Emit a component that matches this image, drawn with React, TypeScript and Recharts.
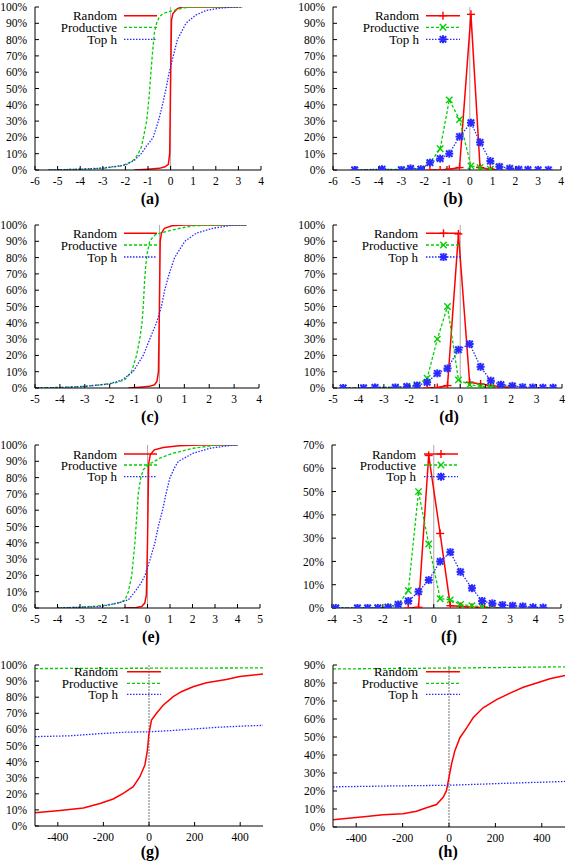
import React from 'react';
import { LineChart, Line, XAxis, YAxis, ReferenceLine } from 'recharts';

const FONT = '"Liberation Serif", "DejaVu Serif", serif';
const RED = '#ff0000';
const GREEN = '#00d000';
const BLUE = '#2a2aff';

type Pair = [number, number];

const seriesNames = ['Random', 'Productive', 'Top h'];

// (a) cumulative
const aRandom: Pair[] = [[-1.6, 0], [-1, 0.5], [-0.5, 1], [-0.25, 2], [-0.1, 3.5], [-0.04, 10], [0, 55], [0.04, 92], [0.1, 96], [0.3, 99], [0.5, 100], [3, 100]];
const aProductive: Pair[] = [[-5.4, 0], [-4, 0.5], [-3, 1], [-2.2, 2.5], [-1.9, 4], [-1.6, 6.5], [-1.43, 10], [-1.3, 14], [-1.2, 20], [-1.06, 30], [-0.95, 45], [-0.87, 60], [-0.8, 72], [-0.72, 84], [-0.62, 90], [-0.5, 94], [-0.33, 96], [0, 97.5], [0.3, 98.5], [0.6, 99.5], [1, 100], [3.2, 100]];
const aTopH: Pair[] = [[-5.4, 0], [-4, 0.5], [-3, 1.2], [-2, 3], [-1.6, 6], [-1.3, 10], [-1.05, 15], [-0.77, 20], [-0.54, 30], [-0.36, 40], [-0.2, 50], [-0.06, 60], [0.12, 70], [0.3, 80], [0.68, 90], [1.1, 95], [1.6, 98], [2.2, 99.3], [2.8, 100], [3.2, 100]];

// (b) distribution
const bRandom: Pair[] = [[-1.75, 0], [-1.3, 0], [-0.9, 0.5], [-0.45, 1.5], [0.05, 95.5], [0.45, 1.5], [0.9, 0.5], [1.3, 0]];
const bProductive: Pair[] = [[-5.05, 0], [-3.85, 0.3], [-3.0, 0.3], [-2.6, 0.8], [-2.15, 0.5], [-1.75, 4.5], [-1.3, 13], [-0.9, 43], [-0.45, 31], [0.05, 2.5], [0.45, 1.5], [0.9, 0.5], [1.3, 0]];
const bTopH: Pair[] = [[-5.05, 0], [-3.85, 0.5], [-3.0, 0], [-2.6, 1], [-2.15, 0.5], [-1.75, 4.5], [-1.3, 7], [-0.9, 10], [-0.45, 20.5], [0.05, 29], [0.45, 17], [0.9, 5.5], [1.3, 2], [1.75, 1], [2.15, 0.3], [2.55, 0.2], [3.0, 0.1], [3.45, 0.1]];

// (c) cumulative
const cRandom: Pair[] = [[-1.25, 0], [-0.8, 0.5], [-0.4, 1], [-0.2, 2], [-0.1, 4], [-0.04, 10], [0, 50], [0.03, 90], [0.08, 95], [0.2, 98], [0.5, 99.5], [1, 100], [3.5, 100]];
const cProductive: Pair[] = [[-5, 0], [-3.7, 0.5], [-3, 1], [-2, 2.6], [-1.7, 3.5], [-1.4, 5], [-1.12, 10], [-0.92, 20], [-0.79, 30], [-0.7, 40], [-0.65, 50], [-0.6, 65], [-0.55, 75], [-0.5, 82], [-0.39, 90], [-0.25, 93], [-0.12, 94.5], [0.28, 96], [0.82, 98], [1.35, 99.5], [2.15, 100], [3.5, 100]];
const cTopH: Pair[] = [[-5, 0], [-4, 0.3], [-3, 1], [-2, 2.5], [-1.5, 5], [-1.06, 10], [-0.65, 20], [-0.39, 30], [-0.12, 40], [0.08, 50], [0.21, 60], [0.39, 70], [0.61, 80], [1.02, 90], [1.48, 95], [2.15, 98], [2.95, 100], [3.5, 100]];

// (d) distribution
const dRandom: Pair[] = [[-1.3, 0], [-0.9, 0.3], [-0.5, 1.5], [-0.07, 94.5], [0.37, 3.5], [0.8, 2.5], [1.2, 1.5], [1.6, 0.8], [2.05, 0.3]];
const dProductive: Pair[] = [[-4.6, 0], [-3.8, 0], [-3.35, 0.3], [-2.55, 0.5], [-2.1, 1], [-1.7, 2], [-1.3, 6], [-0.9, 30], [-0.5, 50], [-0.07, 5], [0.37, 2], [0.8, 1], [1.2, 0.5], [1.6, 0.5], [2.05, 0.2]];
const dTopH: Pair[] = [[-4.6, 0], [-3.8, 0], [-3.35, 0.3], [-2.55, 0.3], [-2.1, 0.8], [-1.7, 1.5], [-1.3, 3.5], [-0.9, 9], [-0.5, 12], [-0.07, 23.5], [0.37, 27], [0.8, 13], [1.2, 4.5], [1.6, 2], [2.05, 1.3], [2.45, 0.5], [2.85, 0.3], [3.25, 0.2], [3.65, 0.2]];

// (e) cumulative
const eRandom: Pair[] = [[-1.05, 0], [-0.5, 0.3], [-0.25, 1], [-0.12, 3], [-0.05, 8], [0, 40], [0.05, 88], [0.12, 94], [0.3, 97], [0.7, 98.5], [1.4, 99.5], [2.3, 100], [4, 100]];
const eProductive: Pair[] = [[-4, 0], [-3, 0.5], [-2, 1.5], [-1.5, 2.5], [-1.2, 3.5], [-1, 5], [-0.85, 10], [-0.7, 20], [-0.63, 30], [-0.56, 40], [-0.51, 50], [-0.46, 60], [-0.41, 70], [-0.3, 80], [-0.18, 85], [0.05, 88], [0.56, 92], [1.15, 95], [2.04, 98], [3.07, 100], [4, 100]];
const eTopH: Pair[] = [[-4, 0], [-3, 0.5], [-2, 1], [-1.67, 2], [-1.2, 3.5], [-0.85, 5], [-0.56, 10], [-0.3, 15], [-0.11, 20], [0.12, 30], [0.33, 40], [0.48, 50], [0.67, 60], [0.82, 70], [1.0, 80], [1.2, 86], [1.37, 90], [2.04, 95], [2.78, 98], [3.81, 100], [4, 100]];

// (f) distribution
const fRandom: Pair[] = [[-1.0, 0], [-0.6, 0.3], [-0.2, 65.5], [0.25, 32], [0.65, 1], [1.05, 0.7], [1.5, 0.3], [1.9, 0.2], [2.3, 0], [2.7, 0]];
const fProductive: Pair[] = [[-3.85, 0], [-3.0, 0], [-2.6, 0], [-2.2, 0.1], [-1.8, 0.5], [-1.4, 1.5], [-1.0, 7.5], [-0.6, 50], [-0.2, 27.5], [0.25, 4], [0.65, 3.5], [1.05, 1.5], [1.5, 1], [1.9, 0.5], [2.3, 0.3], [2.7, 0.1]];
const fTopH: Pair[] = [[-3.85, 0], [-3.0, 0], [-2.6, 0], [-2.2, 0], [-1.8, 0.3], [-1.4, 1.5], [-1.0, 3], [-0.6, 7], [-0.2, 12], [0.25, 20], [0.65, 24], [1.05, 15.5], [1.5, 8.5], [1.9, 3], [2.3, 2], [2.7, 1.3], [3.1, 1], [3.5, 0.7], [3.9, 0.3], [4.3, 0.2]];

// (g) cumulative, wide range
const gRandom: Pair[] = [[-500, 8.3], [-390, 9.7], [-288, 11.2], [-215, 14], [-157, 16.8], [-113, 20.3], [-69, 24.4], [-40, 30.6], [-18, 37.9], [-7, 47], [0, 57.6], [11, 65.8], [33, 70], [62, 75], [106, 80.3], [142, 83.4], [193, 86.5], [252, 89], [339, 91], [398, 92.8], [500, 94.4]];
const gProductive: Pair[] = [[-500, 97.8], [0, 98], [500, 98.2]];
const gTopH: Pair[] = [[-500, 55.5], [-350, 56], [-200, 57.5], [-100, 58.3], [0, 58.5], [100, 59.3], [200, 60.3], [300, 61.3], [400, 62], [500, 62.5]];

// (h)
const hRandom: Pair[] = [[-500, 4], [-356, 5.9], [-284, 6.8], [-198, 7.4], [-140, 8.8], [-97, 10.7], [-54, 12.5], [-25, 16.5], [-11, 20.2], [0, 27.6], [11, 35], [25, 42.3], [47, 49.6], [76, 55.1], [104, 60.7], [147, 66.2], [205, 70.8], [263, 74.4], [320, 77.6], [378, 80], [435, 82.4], [500, 84.2]];
const hProductive: Pair[] = [[-500, 87.8], [0, 88.3], [500, 89]];
const hTopH: Pair[] = [[-500, 22.3], [-250, 22.8], [0, 23.2], [250, 24.3], [500, 25.3]];

const pct100 = [0, 10, 20, 30, 40, 50, 60, 70, 80, 90, 100];
const pct90 = [0, 10, 20, 30, 40, 50, 60, 70, 80, 90];
const pct70 = [0, 10, 20, 30, 40, 50, 60, 70];
const xTicksA = [-6, -5, -4, -3, -2, -1, 0, 1, 2, 3, 4];
const xTicksC = [-5, -4, -3, -2, -1, 0, 1, 2, 3, 4];
const xTicksE = [-5, -4, -3, -2, -1, 0, 1, 2, 3, 4, 5];
const xTicksF = [-4, -3, -2, -1, 0, 1, 2, 3, 4, 5];
const xTicksG = [-400, -200, 0, 200, 400];

const pts = (arr: Pair[]) => arr.map(([x, y]) => ({ x, y }));

type Kind = 'plus' | 'cross' | 'star';

const MarkerShape = ({ kind, cx, cy, color }: { kind: Kind; cx: number; cy: number; color: string }) => {
  const s = 4;
  const d = 3.2;
  return (
    <g stroke={color} strokeWidth={kind === 'star' ? 2 : 1.4} fill="none">
      {kind !== 'cross' && (
        <>
          <line x1={cx - s} y1={cy} x2={cx + s} y2={cy} />
          <line x1={cx} y1={cy - s} x2={cx} y2={cy + s} />
        </>
      )}
      {kind !== 'plus' && (
        <>
          <line x1={cx - d} y1={cy - d} x2={cx + d} y2={cy + d} />
          <line x1={cx - d} y1={cy + d} x2={cx + d} y2={cy - d} />
        </>
      )}
    </g>
  );
};

const mkDot = (kind: Kind, color: string) => (p: any) => {
  const { cx, cy, index } = p;
  if (cx == null || cy == null) return <g key={`d${index}`} />;
  return <MarkerShape key={`d${index}`} kind={kind} cx={cx} cy={cy} color={color} />;
};

const styles = [
  { color: RED, dash: undefined as string | undefined, width: 1.5, kind: 'plus' as Kind },
  { color: GREEN, dash: '3 2', width: 1.3, kind: 'cross' as Kind },
  { color: BLUE, dash: '1.5 1.5', width: 1.3, kind: 'star' as Kind },
];

interface PanelProps {
  ox: number;
  oy: number;
  l: number;
  r: number;
  t: number;
  b: number;
  xDomain: [number, number];
  xTicks: number[];
  yMax: number;
  yTicks: number[];
  series: Pair[][];
  markers?: boolean;
  wide?: boolean;
}

const W = 283;
const H = 200;
const tickFont = { fontSize: 11.5, fill: '#000', fontFamily: FONT };

const Panel = ({ ox, oy, l, r, t, b, xDomain, xTicks, yMax, yTicks, series, markers, wide }: PanelProps) => (
  <div style={{ position: 'absolute', left: ox, top: oy, width: W, height: H }}>
    <LineChart width={W} height={H} margin={{ top: t - oy, right: ox + W - r, left: 0, bottom: 0 }}>
      <XAxis
        type="number"
        dataKey="x"
        domain={xDomain}
        ticks={xTicks}
        interval={0}
        height={oy + H - b}
        tickSize={-4}
        tickMargin={11}
        tick={tickFont}
        stroke="#000"
        allowDataOverflow
      />
      <XAxis xAxisId="top" orientation="top" type="number" domain={xDomain} ticks={xTicks} height={0} tickSize={-4} tick={false} stroke="#000" allowDataOverflow />
      <YAxis
        type="number"
        domain={[0, yMax]}
        ticks={yTicks}
        interval={0}
        width={l - ox}
        tickSize={-4}
        tickMargin={12}
        tick={tickFont}
        tickFormatter={(v: number) => `${v}%`}
        stroke="#000"
        allowDataOverflow
      />
      <YAxis yAxisId="right" orientation="right" type="number" domain={[0, yMax]} ticks={yTicks} width={0} tickSize={-4} tick={false} stroke="#000" allowDataOverflow />
      <ReferenceLine x={0} stroke={wide ? '#777' : '#aaa'} strokeWidth={1} strokeDasharray={wide ? '2 1' : undefined} />
      {series.map((s, i) => (
        <Line
          key={seriesNames[i]}
          data={pts(s)}
          dataKey="y"
          type="linear"
          stroke={styles[i].color}
          strokeWidth={styles[i].width}
          strokeDasharray={styles[i].dash}
          dot={markers ? mkDot(styles[i].kind, styles[i].color) : false}
          activeDot={false}
          isAnimationActive={false}
        />
      ))}
    </LineChart>
  </div>
);

interface LegendSpec {
  textRight: number;
  s1: number;
  s2: number;
  rows: number[];
  markers?: boolean;
}

const legends: LegendSpec[] = [
  { textRight: 117, s1: 124, s2: 157, rows: [15.7, 27.3, 39.3] },
  { textRight: 419, s1: 426, s2: 460, rows: [15.7, 27.3, 39.3], markers: true },
  { textRight: 117, s1: 124, s2: 157, rows: [233.3, 245, 257] },
  { textRight: 418, s1: 426, s2: 461, rows: [233.3, 245, 257], markers: true },
  { textRight: 117, s1: 124, s2: 157, rows: [454, 465, 476.7] },
  { textRight: 416, s1: 424, s2: 458, rows: [454, 465, 476.7], markers: true },
  { textRight: 118, s1: 127, s2: 161, rows: [671.7, 683.3, 694.3] },
  { textRight: 418, s1: 426, s2: 460, rows: [671.7, 683.3, 694.3] },
];

const panelLabels = [
  { text: '(a)', x: 150, y: 198 },
  { text: '(b)', x: 453, y: 198 },
  { text: '(c)', x: 150, y: 416 },
  { text: '(d)', x: 449, y: 416 },
  { text: '(e)', x: 151, y: 636 },
  { text: '(f)', x: 449, y: 636 },
  { text: '(g)', x: 150, y: 851 },
  { text: '(h)', x: 448, y: 851 },
];

export default function App() {
  return (
    <div style={{ position: 'absolute', left: 0, top: 0, width: 566, height: 863, background: '#fff', overflow: 'hidden' }}>
      <Panel ox={0} oy={0} l={35} r={261} t={7} b={170} xDomain={[-6, 4]} xTicks={xTicksA} yMax={100} yTicks={pct100} series={[aRandom, aProductive, aTopH]} />
      <Panel ox={283} oy={0} l={333} r={561} t={7} b={170} xDomain={[-6, 4]} xTicks={xTicksA} yMax={100} yTicks={pct100} series={[bRandom, bProductive, bTopH]} markers />
      <Panel ox={0} oy={215} l={35} r={259} t={225} b={388} xDomain={[-5, 4]} xTicks={xTicksC} yMax={100} yTicks={pct100} series={[cRandom, cProductive, cTopH]} />
      <Panel ox={283} oy={215} l={333} r={562} t={225} b={388} xDomain={[-5, 4]} xTicks={xTicksC} yMax={100} yTicks={pct100} series={[dRandom, dProductive, dTopH]} markers />
      <Panel ox={0} oy={430} l={35} r={260} t={445} b={608} xDomain={[-5, 5]} xTicks={xTicksE} yMax={100} yTicks={pct100} series={[eRandom, eProductive, eTopH]} />
      <Panel ox={283} oy={430} l={332} r={561} t={445} b={608} xDomain={[-4, 5]} xTicks={xTicksF} yMax={70} yTicks={pct70} series={[fRandom, fProductive, fTopH]} markers />
      <Panel ox={0} oy={650} l={35} r={263} t={665} b={826} xDomain={[-500, 500]} xTicks={xTicksG} yMax={100} yTicks={pct100} series={[gRandom, gProductive, gTopH]} wide />
      <Panel ox={283} oy={650} l={333} r={565} t={665} b={827} xDomain={[-500, 500]} xTicks={xTicksG} yMax={90} yTicks={pct90} series={[hRandom, hProductive, hTopH]} wide />
      <svg width={566} height={863} style={{ position: 'absolute', left: 0, top: 0, pointerEvents: 'none' }}>
        {legends.map((lg, li) => (
          <g key={li}>
            {lg.rows.map((y, i) => (
              <g key={i}>
                <text x={lg.textRight} y={y} textAnchor="end" dominantBaseline="central" fontFamily={FONT} fontSize={13} fill="#000">
                  {seriesNames[i]}
                </text>
                <line x1={lg.s1} y1={y} x2={lg.s2} y2={y} stroke={styles[i].color} strokeWidth={styles[i].width} strokeDasharray={styles[i].dash} />
                {lg.markers && <MarkerShape kind={styles[i].kind} cx={(lg.s1 + lg.s2) / 2} cy={y} color={styles[i].color} />}
              </g>
            ))}
          </g>
        ))}
        {panelLabels.map((p) => (
          <text key={p.text} x={p.x} y={p.y} textAnchor="middle" dominantBaseline="central" fontFamily={FONT} fontSize={16} fontWeight="bold" fill="#000">
            {p.text}
          </text>
        ))}
      </svg>
    </div>
  );
}
